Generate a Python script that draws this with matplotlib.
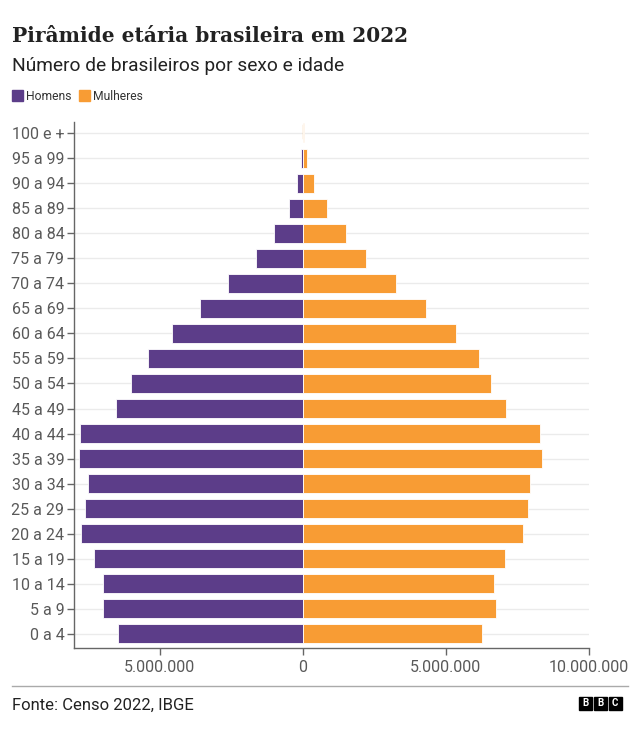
import numpy as np
import matplotlib.pyplot as plt
from matplotlib.patches import Rectangle
plt.rcParams["font.family"] = ["Roboto", "DejaVu Sans"]

# age groups, bottom to top
faixas = ["0 a 4", "5 a 9", "10 a 14", "15 a 19", "20 a 24", "25 a 29",
          "30 a 34", "35 a 39", "40 a 44", "45 a 49", "50 a 54", "55 a 59",
          "60 a 64", "65 a 69", "70 a 74", "75 a 79", "80 a 84", "85 a 89",
          "90 a 94", "95 a 99", "100 e +"]
homens = [6.45, 7.00, 6.98, 7.30, 7.74, 7.60, 7.52, 7.82, 7.78, 6.53, 6.00,
          5.41, 4.59, 3.58, 2.60, 1.65, 1.01, 0.49, 0.20, 0.05, 0.01]
mulheres = [6.26, 6.75, 6.69, 7.06, 7.71, 7.86, 7.94, 8.36, 8.30, 7.10, 6.59,
            6.14, 5.35, 4.30, 3.25, 2.20, 1.49, 0.85, 0.39, 0.13, 0.03]
homens = np.array(homens) * 1e6
mulheres = np.array(mulheres) * 1e6

xticks = [-5e6, 0, 5e6, 10e6]
xticklabels = ["5.000.000", "0", "5.000.000", "10.000.000"]

roxo = "#5c3d89"
laranja = "#f89c34"
cinza = "#595959"

fig = plt.figure(figsize=(6.4, 7.32), dpi=100)
ax = fig.add_axes([0.1156, 0.1148, 0.8047, 0.7186])

y = np.arange(len(faixas))
ax.barh(y, -homens, height=0.76, color=roxo, edgecolor="white", linewidth=0.6, zorder=3)
ax.barh(y, mulheres, height=0.76, color=laranja, edgecolor="white", linewidth=0.6, zorder=3)
ax.axvline(0, ymin=0.97, ymax=0.995, color="#f6c89a", linewidth=1, zorder=2)

ax.set_xlim(-8e6, 10e6)
ax.set_ylim(-0.56, 20.44)
ax.set_yticks(y)
ax.set_yticklabels(faixas)
ax.set_xticks(xticks)
ax.set_xticklabels(xticklabels)
for yy in y:
    ax.axhline(yy, color="#ebebeb", linewidth=1, zorder=1)

for s in ["top", "right"]:
    ax.spines[s].set_visible(False)
for s in ["left", "bottom"]:
    ax.spines[s].set_color("#666666")
    ax.spines[s].set_linewidth(1)
ax.tick_params(axis="both", colors="#666666", labelcolor=cinza, labelsize=11.5,
               length=5, width=1)
ax.tick_params(axis="x", pad=4)
ax.tick_params(axis="y", pad=2)

# titles
fig.text(12/640, 1 - 36/732, "Pirâmide etária brasileira em 2022", fontsize=14.5,
         fontweight="bold", family="DejaVu Serif", color="#222222", va="center")
fig.text(12/640, 1 - 66/732, "Número de brasileiros por sexo e idade", fontsize=13.8,
         color="#222222", va="center")

# legend
fig.patches.append(Rectangle((12/640, 1 - 101/732), 11/640, 11/732, color=roxo,
                             transform=fig.transFigure, figure=fig))
fig.text(26/640, 1 - 96/732, "Homens", fontsize=8.7, color="#333333", va="center")
fig.patches.append(Rectangle((79/640, 1 - 101/732), 11/640, 11/732, color=laranja,
                             transform=fig.transFigure, figure=fig))
fig.text(93/640, 1 - 96/732, "Mulheres", fontsize=8.7, color="#333333", va="center")

# footer
fig.add_artist(plt.Line2D([12/640, 628/640], [1 - 685.5/732, 1 - 685.5/732],
                          color="#aaaaaa", linewidth=1, transform=fig.transFigure))
fig.text(12/640, 1 - 705/732, "Fonte: Censo 2022, IBGE", fontsize=12,
         color="#222222", va="center")
for i, letra in enumerate("BBC"):
    x0 = 579 + i * 15
    fig.patches.append(Rectangle((x0/640, 1 - 710/732), 12.5/640, 13/732, color="black",
                                 transform=fig.transFigure, figure=fig))
    fig.text((x0 + 6.25)/640, 1 - 703.5/732, letra, fontsize=7, fontweight="bold",
             color="white", ha="center", va="center")

fig.savefig("out.png", dpi=100)
